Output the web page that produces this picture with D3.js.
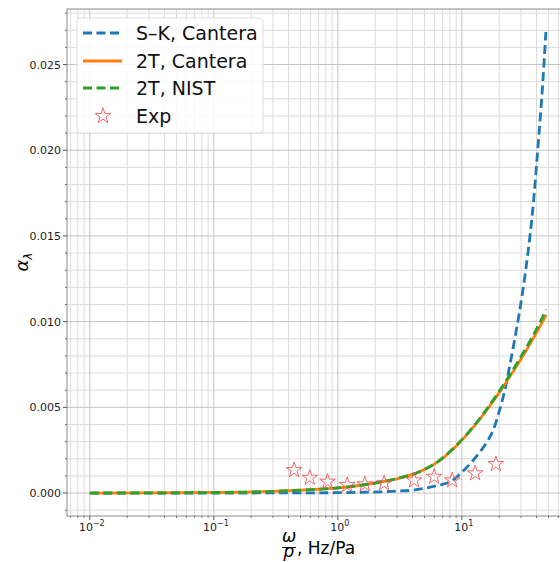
<!DOCTYPE html>
<html>
<head>
<meta charset="utf-8">
<script src="https://cdn.jsdelivr.net/npm/d3@7"></script>
<style>
  body { margin: 0; background: #fff; }
  svg { font-family: "DejaVu Sans", sans-serif; display: block; }
</style>
</head>
<body>
<svg id="SVG_CONTAINER" width="560" height="562"></svg>
<script>
// ---- data ----
const omega2T   = [0.01, 0.03, 0.1, 0.3, 0.5, 1.0, 1.5, 2.3, 3.2, 4.5, 6.65, 9.3, 11.5, 14, 16.8, 20.2, 24.5, 29.4, 33.3, 37.6, 42.5, 47.9];
const cantera2T = [0, 0.00001, 0.00003, 0.0001, 0.00017, 0.0003, 0.00044, 0.00066, 0.00089, 0.00122, 0.0019, 0.00285, 0.00357, 0.00432, 0.00508, 0.0059, 0.00682, 0.00772, 0.00836, 0.00902, 0.0097, 0.0104];
const nist2T    = [0, 0.00001, 0.00003, 0.0001, 0.00017, 0.0003, 0.00044, 0.00066, 0.0009, 0.00123, 0.00192, 0.00288, 0.0036, 0.00436, 0.00514, 0.00598, 0.00692, 0.00786, 0.00852, 0.0092, 0.00994, 0.0107];

const omegaSK   = [0.01, 0.1, 0.5, 1, 2.18, 3, 4.05, 5.2, 6.65, 7.53, 8.3, 9.63, 12.3, 14, 16, 17.9, 19.9, 22.2, 25.2, 27.8, 30.7, 34.1, 37.6, 41.2, 44.8, 47.6];
const skCantera = [0, 0.000001, 0.00001, 0.00002, 0.00007, 0.00011, 0.00017, 0.0003, 0.00047, 0.00057, 0.0007, 0.0011, 0.0019, 0.0024, 0.003, 0.00367, 0.0047, 0.006, 0.008, 0.0097, 0.0116, 0.014, 0.0168, 0.0203, 0.0238, 0.0269];

const omegaExp  = [0.444, 0.594, 0.826, 1.19, 1.65, 2.36, 4.12, 5.98, 8.36, 12.8, 18.8];
const alphaExp  = [0.00134, 0.00089, 0.00066, 0.00047, 0.00051, 0.00057, 0.00074, 0.00095, 0.00074, 0.00115, 0.00169];

const yTicks = [0, 0.005, 0.010, 0.015, 0.020, 0.025];
const xTickExps = [-2, -1, 0, 1];

const legendNames = ["S\u2013K, Cantera", "2T, Cantera", "2T, NIST", "Exp"];
const colours = {sk: "#1f77b4", c2t: "#ff7f0e", n2t: "#2ca02c", exp: "#ee5a5a"};

// ---- layout ----
const MARGIN = {LEFT: 67, TOP: 9, BOTTOM: 516, RIGHT: 569};

let svg = d3.select("#SVG_CONTAINER");

let xScale = d3.scaleLog()
    .domain([Math.pow(10, -2.184), Math.pow(10, 1.864)])
    .range([MARGIN.LEFT, MARGIN.RIGHT]);

let yScale = d3.scaleLinear()
    .domain([-0.00134, 0.02824])
    .range([MARGIN.BOTTOM, MARGIN.TOP]);

// ---- grid ----
let grid = svg.append("g").attr("class", "grid");

// minor x grid (2..9 per decade)
let minorX = [];
for (let e = -3; e <= 1; e++) {
    for (let m = 2; m <= 9; m++) {
        let v = m * Math.pow(10, e);
        if (v > xScale.domain()[0] && v < xScale.domain()[1]) minorX.push(v);
    }
}
grid.selectAll(".minorX").data(minorX).enter().append("line")
    .attr("x1", d => xScale(d)).attr("x2", d => xScale(d))
    .attr("y1", MARGIN.TOP).attr("y2", MARGIN.BOTTOM)
    .attr("stroke", "#dcdcdc").attr("stroke-width", 1);

// minor y grid every 0.001
let minorY = d3.range(-1, 29).map(i => i * 0.001).filter(v => (Math.round(v * 1000) % 5) !== 0);
grid.selectAll(".minorY").data(minorY).enter().append("line")
    .attr("x1", MARGIN.LEFT).attr("x2", MARGIN.RIGHT)
    .attr("y1", d => yScale(d)).attr("y2", d => yScale(d))
    .attr("stroke", "#dcdcdc").attr("stroke-width", 1);

// major grid
grid.selectAll(".majorX").data(xTickExps).enter().append("line")
    .attr("x1", d => xScale(Math.pow(10, d))).attr("x2", d => xScale(Math.pow(10, d)))
    .attr("y1", MARGIN.TOP).attr("y2", MARGIN.BOTTOM)
    .attr("stroke", "#c4c4c4").attr("stroke-width", 1);
grid.selectAll(".majorY").data(yTicks).enter().append("line")
    .attr("x1", MARGIN.LEFT).attr("x2", MARGIN.RIGHT)
    .attr("y1", d => yScale(d)).attr("y2", d => yScale(d))
    .attr("stroke", "#c4c4c4").attr("stroke-width", 1);

// ---- spines ----
svg.append("rect")
    .attr("x", MARGIN.LEFT).attr("y", MARGIN.TOP)
    .attr("width", MARGIN.RIGHT - MARGIN.LEFT).attr("height", MARGIN.BOTTOM - MARGIN.TOP)
    .attr("fill", "none").attr("stroke", "#8a8a8a").attr("stroke-width", 1);

// ---- axes ticks & labels ----
let yAx = svg.append("g").attr("class", "y_axis");
yTicks.forEach(t => {
    yAx.append("line")
        .attr("x1", MARGIN.LEFT - 4).attr("x2", MARGIN.LEFT)
        .attr("y1", yScale(t)).attr("y2", yScale(t))
        .attr("stroke", "#555");
    yAx.append("text")
        .attr("x", MARGIN.LEFT - 6).attr("y", yScale(t) + 4)
        .attr("text-anchor", "end")
        .style("font-size", "11px").attr("fill", "#222")
        .text(d3.format(".3f")(t));
});
minorY.forEach(t => {
    yAx.append("line")
        .attr("x1", MARGIN.LEFT - 2).attr("x2", MARGIN.LEFT)
        .attr("y1", yScale(t)).attr("y2", yScale(t))
        .attr("stroke", "#777");
});

let xAx = svg.append("g").attr("class", "x_axis");
xTickExps.forEach(e => {
    let x = xScale(Math.pow(10, e));
    xAx.append("line")
        .attr("x1", x).attr("x2", x)
        .attr("y1", MARGIN.BOTTOM).attr("y2", MARGIN.BOTTOM + 4)
        .attr("stroke", "#555");
    let t = xAx.append("text")
        .attr("x", x + 2).attr("y", MARGIN.BOTTOM + 15)
        .attr("text-anchor", "middle")
        .style("font-size", "11px").attr("fill", "#222");
    t.append("tspan").text("10");
    t.append("tspan").attr("dy", -5).style("font-size", "8px")
        .text(e < 0 ? "\u2212" + (-e) : String(e));
});
minorX.forEach(v => {
    xAx.append("line")
        .attr("x1", xScale(v)).attr("x2", xScale(v))
        .attr("y1", MARGIN.BOTTOM).attr("y2", MARGIN.BOTTOM + 2)
        .attr("stroke", "#777");
});

// x label: omega over p, Hz/Pa (fraction kept in one text element)
let xl = svg.append("g").attr("class", "x_label");
let frac = xl.append("text").attr("text-anchor", "middle")
    .style("font-size", "17px").style("font-style", "italic");
frac.append("tspan").attr("x", 289).attr("y", 542).text("\u03c9");
frac.append("tspan").attr("x", 289).attr("y", 557).text("p");
xl.append("line").attr("x1", 282).attr("x2", 296).attr("y1", 547.5).attr("y2", 547.5)
    .attr("stroke", "#000").attr("stroke-width", 0.9);
xl.append("text").attr("x", 297).attr("y", 554)
    .style("font-size", "17px").text(", Hz/Pa");

// y label: alpha_lambda
let yl = svg.append("text")
    .attr("transform", "translate(28,262) rotate(-90)")
    .attr("text-anchor", "middle")
    .style("font-size", "18px");
yl.append("tspan").style("font-style", "italic").text("\u03b1");
yl.append("tspan").attr("dy", 4).style("font-size", "12px").style("font-style", "italic").text("\u03bb");

// ---- lines ----
svg.append("clipPath").attr("id", "plotclip")
    .append("rect").attr("x", MARGIN.LEFT).attr("y", MARGIN.TOP)
    .attr("width", MARGIN.RIGHT - MARGIN.LEFT).attr("height", MARGIN.BOTTOM - MARGIN.TOP);

let lines = svg.append("g").attr("class", "lines").attr("clip-path", "url(#plotclip)");

let lineGen = d3.line()
    .x(d => xScale(d[0]))
    .y(d => yScale(d[1]))
    .curve(d3.curveMonotoneX);

lines.append("path")
    .datum(d3.zip(omegaSK, skCantera))
    .attr("d", lineGen)
    .attr("fill", "none").attr("stroke", colours.sk)
    .attr("stroke-width", 2.8).attr("stroke-dasharray", "9,4.5");

lines.append("path")
    .datum(d3.zip(omega2T, cantera2T))
    .attr("d", lineGen)
    .attr("fill", "none").attr("stroke", colours.c2t)
    .attr("stroke-width", 2.8);

lines.append("path")
    .datum(d3.zip(omega2T, nist2T))
    .attr("d", lineGen)
    .attr("fill", "none").attr("stroke", colours.n2t)
    .attr("stroke-width", 2.8).attr("stroke-dasharray", "9,4.5");

// experimental points
let star = d3.symbol().type(d3.symbolStar).size(75);
lines.selectAll(".exp").data(d3.zip(omegaExp, alphaExp)).enter().append("path")
    .attr("d", star)
    .attr("transform", d => "translate(" + xScale(d[0]) + "," + yScale(d[1]) + ")")
    .attr("fill", "none").attr("stroke", colours.exp).attr("stroke-width", 0.9);

// ---- legend ----
let legend = svg.append("g").attr("class", "legend");
legend.append("rect")
    .attr("x", 77).attr("y", 18).attr("width", 186).attr("height", 115)
    .attr("rx", 3).attr("fill", "#fff").attr("fill-opacity", 0.85)
    .attr("stroke", "#dddddd");

let legendY = [33, 61, 88, 116];
let legendStyles = [
    {c: colours.sk, dash: "9,4.5"},
    {c: colours.c2t, dash: null},
    {c: colours.n2t, dash: "9,4.5"}
];
for (let i = 0; i < 3; i++) {
    let l = legend.append("line")
        .attr("x1", 83).attr("x2", 122)
        .attr("y1", legendY[i]).attr("y2", legendY[i])
        .attr("stroke", legendStyles[i].c).attr("stroke-width", 2.8);
    if (legendStyles[i].dash) l.attr("stroke-dasharray", legendStyles[i].dash);
}
legend.append("path").attr("d", star)
    .attr("transform", "translate(103," + legendY[3] + ")")
    .attr("fill", "none").attr("stroke", colours.exp).attr("stroke-width", 0.9);

for (let i = 0; i < legendNames.length; i++) {
    legend.append("text")
        .attr("x", 136).attr("y", legendY[i] + 7)
        .style("font-size", "19px").attr("fill", "#111")
        .text(legendNames[i]);
}
</script>
</body>
</html>
